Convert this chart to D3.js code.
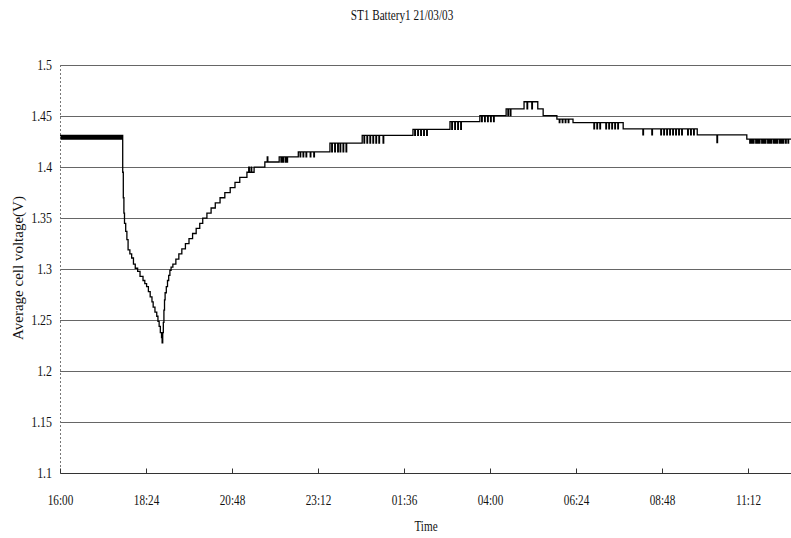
<!DOCTYPE html>
<html>
<head>
<meta charset="utf-8">
<script src="https://cdn.jsdelivr.net/npm/d3@7"></script>
<style>
  body { margin: 0; background: #fff; }
  svg { display: block; font-family: "Liberation Serif", "Times New Roman", serif; }
  .narrow { transform-box: fill-box; transform-origin: center; transform: scaleX(0.8); }
  .narrow-right { transform-box: fill-box; transform-origin: right; transform: scaleX(0.85); }
</style>
</head>
<body>
<svg id="chart" width="791" height="538"></svg>
<script>
const title = 'ST1 Battery1 21/03/03';
const yLabel = 'Average cell voltage(V)';
const xLabel = 'Time';
const yTicks = [1.1, 1.15, 1.2, 1.25, 1.3, 1.35, 1.4, 1.45, 1.5];
const xTicks = ['16:00', '18:24', '20:48', '23:12', '01:36', '04:00', '06:24', '08:48', '11:12'];
const timeStart = '16:00';
const timeEnd = '12:24';

// level changes [clock, V]
const steps = [
  ['16:00', 1.431], ['17:45', 1.395], ['17:46', 1.370], ['17:47', 1.355], ['17:48', 1.345],
  ['17:50', 1.337], ['17:52', 1.329], ['17:54', 1.319], ['17:57', 1.315], ['18:00', 1.311],
  ['18:03', 1.305], ['18:06', 1.301], ['18:10', 1.298], ['18:14', 1.293], ['18:19', 1.289],
  ['18:22', 1.286], ['18:25', 1.283], ['18:28', 1.278], ['18:31', 1.273], ['18:34', 1.268],
  ['18:36', 1.263], ['18:39', 1.258], ['18:42', 1.254], ['18:44', 1.249], ['18:46', 1.244],
  ['18:48', 1.238], ['18:50', 1.233], ['18:51', 1.228], ['18:52', 1.238], ['18:53', 1.248],
  ['18:54', 1.260], ['18:55', 1.270], ['18:56', 1.277], ['18:58', 1.283], ['19:00', 1.289],
  ['19:02', 1.294], ['19:04', 1.299], ['19:06', 1.302], ['19:09', 1.305], ['19:14', 1.310],
  ['19:19', 1.315], ['19:24', 1.320], ['19:30', 1.325], ['19:36', 1.330], ['19:42', 1.335],
  ['19:48', 1.340], ['19:54', 1.345], ['19:59', 1.350], ['20:06', 1.355], ['20:13', 1.360],
  ['20:20', 1.365], ['20:28', 1.370], ['20:36', 1.375], ['20:45', 1.380], ['20:53', 1.385],
  ['21:01', 1.390], ['21:13', 1.395], ['21:25', 1.400], ['21:43', 1.405], ['22:07', 1.410],
  ['22:39', 1.415], ['23:32', 1.4235], ['00:26', 1.431], ['01:51', 1.437], ['02:53', 1.4445],
  ['03:43', 1.4505], ['04:27', 1.457], ['04:57', 1.464], ['05:20', 1.457], ['05:29', 1.4505],
  ['05:52', 1.447], ['06:19', 1.4435], ['07:43', 1.4375], ['09:47', 1.4315], ['11:10', 1.4275],
  ['12:24', 1.4275]
];

// one-sample flicker to the neighbouring level [clock, V]
const spikes = [
  ['16:02', 1.4275], ['16:04', 1.4275], ['16:07', 1.4275], ['16:09', 1.4275], ['16:12', 1.4275],
  ['16:14', 1.4275], ['16:17', 1.4275], ['16:20', 1.4275], ['16:22', 1.4275], ['16:25', 1.4275],
  ['16:28', 1.4275], ['16:30', 1.4275], ['16:33', 1.4275], ['16:36', 1.4275], ['16:38', 1.4275],
  ['16:41', 1.4275], ['16:43', 1.4275], ['16:46', 1.4275], ['16:49', 1.4275], ['16:51', 1.4275],
  ['16:54', 1.4275], ['16:57', 1.4275], ['16:59', 1.4275], ['17:02', 1.4275], ['17:05', 1.4275],
  ['17:07', 1.4275], ['17:10', 1.4275], ['17:13', 1.4275], ['17:15', 1.4275], ['17:18', 1.4275],
  ['17:21', 1.4275], ['17:23', 1.4275], ['17:26', 1.4275], ['17:29', 1.4275], ['17:31', 1.4275],
  ['17:34', 1.4275], ['17:37', 1.4275], ['17:39', 1.4275], ['17:42', 1.4275],
  ['21:16', 1.400], ['21:20', 1.400], ['21:47', 1.410],
  ['22:10', 1.405], ['22:13', 1.405], ['22:17', 1.405], ['22:20', 1.405],
  ['22:42', 1.410], ['22:47', 1.410], ['22:52', 1.410], ['22:59', 1.410], ['23:05', 1.410],
  ['23:35', 1.415], ['23:40', 1.415], ['23:45', 1.415], ['23:49', 1.415], ['23:54', 1.415], ['23:59', 1.415],
  ['00:29', 1.4235], ['00:34', 1.4235], ['00:39', 1.4235], ['00:44', 1.4235], ['00:49', 1.4235],
  ['00:54', 1.4235], ['01:01', 1.4235],
  ['01:54', 1.431], ['01:59', 1.431], ['02:04', 1.431], ['02:09', 1.431], ['02:14', 1.431],
  ['02:56', 1.437], ['03:01', 1.437], ['03:06', 1.437], ['03:11', 1.437],
  ['03:46', 1.4445], ['03:51', 1.4445], ['03:56', 1.4445], ['04:01', 1.4445], ['04:06', 1.4445],
  ['04:30', 1.4505], ['04:34', 1.4505], ['05:02', 1.457], ['05:10', 1.457],
  ['05:56', 1.4435], ['06:01', 1.4435], ['06:06', 1.4435], ['06:11', 1.4435],
  ['06:54', 1.4375], ['06:59', 1.4375], ['07:04', 1.4375], ['07:14', 1.4375], ['07:19', 1.4375],
  ['07:24', 1.4375], ['07:29', 1.4375], ['07:34', 1.4375],
  ['08:16', 1.4315], ['08:31', 1.4315],
  ['08:46', 1.4315], ['08:51', 1.4315], ['08:56', 1.4315], ['09:01', 1.4315], ['09:06', 1.4315],
  ['09:11', 1.4315], ['09:16', 1.4315], ['09:21', 1.4315], ['09:31', 1.4315], ['09:36', 1.4315],
  ['09:41', 1.4315], ['10:20', 1.424],
  ['11:15', 1.4235], ['11:18', 1.4235], ['11:21', 1.4235], ['11:25', 1.4235], ['11:28', 1.4235],
  ['11:31', 1.4235], ['11:35', 1.4235], ['11:38', 1.4235], ['11:41', 1.4235], ['11:45', 1.4235],
  ['11:48', 1.4235], ['11:51', 1.4235], ['11:55', 1.4235], ['11:58', 1.4235], ['12:01', 1.4235],
  ['12:05', 1.4235], ['12:08', 1.4235], ['12:11', 1.4235], ['12:15', 1.4235], ['12:19', 1.4235]
];

// clock strings after midnight belong to the next day
function toDate(s) {
  const [h, m] = s.split(':').map(Number);
  return new Date(2003, 2, h < 16 ? 22 : 21, h, m);
}

const stepPts = steps.map(([t, v]) => ({ t: toDate(t), v }));
const bisect = d3.bisector(p => p.t).right;
const levelAt = d => stepPts[bisect(stepPts, d) - 1].v;

const points = stepPts.slice();
spikes.forEach(([t, v]) => {
  const d = toDate(t);
  const back = new Date(+d + 60000);
  points.push({ t: d, v }, { t: back, v: levelAt(back) });
});
points.sort((a, b) => a.t - b.t);

const svg = d3.select('#chart');
const plotL = 60, plotR = 791, plotT = 65, plotB = 473.5;

const x = d3.scaleTime()
  .domain([toDate(timeStart), toDate(timeEnd)])
  .range([plotL, plotR]);

const y = d3.scaleLinear()
  .domain([1.1, 1.5])
  .range([plotB, plotT]);

// grid
svg.append('g')
  .selectAll('line')
  .data(yTicks)
  .join('line')
  .attr('x1', plotL)
  .attr('x2', plotR)
  .attr('y1', d => y(d))
  .attr('y2', d => y(d))
  .attr('stroke', d => d === 1.1 ? '#333' : '#666')
  .attr('stroke-width', 1)
  .attr('shape-rendering', 'crispEdges');

// dotted left edge
svg.append('line')
  .attr('x1', plotL).attr('x2', plotL)
  .attr('y1', plotT).attr('y2', plotB)
  .attr('stroke', '#777')
  .attr('stroke-dasharray', '2,2')
  .attr('shape-rendering', 'crispEdges');

const yAxis = svg.append('g')
  .attr('transform', `translate(${plotL},0)`)
  .call(d3.axisLeft(y).tickValues(yTicks).tickSize(0).tickPadding(8).tickFormat(d => d))
  .attr('font-family', null)
  .attr('font-size', 14);
yAxis.select('.domain').remove();
yAxis.selectAll('text')
  .attr('class', 'narrow-right')
  .attr('fill', '#111');

const xAxis = svg.append('g')
  .attr('transform', `translate(0,${plotB})`)
  .call(d3.axisBottom(x).tickValues(xTicks.map(toDate)).tickSize(-5).tickPadding(22).tickFormat(d3.timeFormat('%H:%M')))
  .attr('font-family', null)
  .attr('font-size', 14);
xAxis.select('.domain').remove();
xAxis.selectAll('.tick line').attr('stroke', '#333');
xAxis.selectAll('text')
  .attr('class', 'narrow')
  .attr('fill', '#111');

// voltage trace
svg.append('path')
  .datum(points)
  .attr('fill', 'none')
  .attr('stroke', '#000')
  .attr('stroke-width', 1.3)
  .attr('d', d3.line().x(d => x(d.t)).y(d => y(d.v)).curve(d3.curveStepAfter));

svg.append('text')
  .attr('class', 'narrow')
  .attr('x', 402)
  .attr('y', 20)
  .attr('text-anchor', 'middle')
  .attr('font-size', 14)
  .attr('fill', '#111')
  .text(title);

svg.append('text')
  .attr('class', 'narrow')
  .attr('x', 426)
  .attr('y', 531)
  .attr('text-anchor', 'middle')
  .attr('font-size', 14)
  .attr('fill', '#111')
  .text(xLabel);

svg.append('text')
  .attr('transform', 'translate(23,268) rotate(-90)')
  .attr('text-anchor', 'middle')
  .attr('font-size', 15)
  .attr('fill', '#111')
  .text(yLabel);
</script>
</body>
</html>
